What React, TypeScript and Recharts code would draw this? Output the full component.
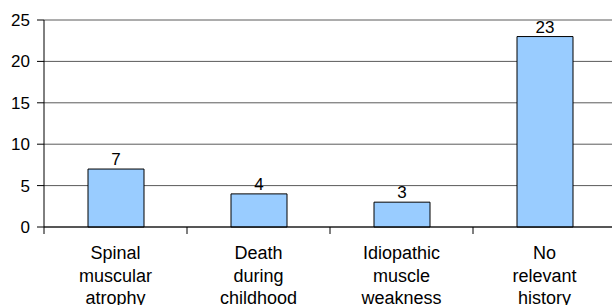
import { Bar, BarChart, CartesianGrid, LabelList, XAxis, YAxis } from "recharts";

// Patient counts by family history category.
const categories = [
  "Spinal muscular atrophy",
  "Death during childhood",
  "Idiopathic muscle weakness",
  "No relevant history",
];
const counts = [7, 4, 3, 23];
const yTicks = [0, 5, 10, 15, 20, 25];

const data = categories.map((name, i) => ({ name, value: counts[i] }));

const FONT = "'Liberation Sans', Arial, Helvetica, sans-serif";

// Label in the middle of the band, tick mark on the band's left edge.
function CategoryTick(props: any) {
  const { x, y, payload } = props;
  const half = payload?.offset ?? 0;
  const lines = String(payload.value).split(" ");
  return (
    <g>
      <line x1={x - half} x2={x - half} y1={y - 7} y2={y} stroke="#000" />
      <text x={x} y={y} textAnchor="middle" fontFamily={FONT} fontSize={18} fill="#000">
        {lines.map((line, i) => (
          <tspan key={i} x={x} dy={i === 0 ? 25 : 22.5}>
            {line}
          </tspan>
        ))}
      </text>
    </g>
  );
}

export default function App() {
  return (
    <div
      style={{
        position: "absolute",
        top: 0,
        left: 0,
        width: 612,
        height: 305,
        overflow: "hidden",
        background: "#fff",
      }}
    >
      <BarChart
        width={616}
        height={305}
        data={data}
        margin={{ top: 20, right: 0, bottom: 0, left: 0 }}
      >
        <CartesianGrid vertical={false} stroke="#5a5a5a" />
        <XAxis
          dataKey="name"
          height={78}
          interval={0}
          axisLine={{ stroke: "#000" }}
          tickLine={false}
          tickSize={7}
          tickMargin={0}
          tick={<CategoryTick />}
        />
        <YAxis
          width={44}
          domain={[0, 25]}
          ticks={yTicks}
          interval={0}
          axisLine={{ stroke: "#000" }}
          tickLine={{ stroke: "#000" }}
          tickSize={7}
          tickMargin={7}
          tick={{ fill: "#000", fontSize: 17, fontFamily: FONT }}
        />
        <Bar
          dataKey="value"
          fill="#99ccff"
          stroke="#000"
          strokeWidth={1}
          barSize={56}
          isAnimationActive={false}
        >
          <LabelList
            dataKey="value"
            position="top"
            offset={4}
            fill="#000"
            fontSize={17}
            fontFamily={FONT}
          />
        </Bar>
      </BarChart>
    </div>
  );
}
